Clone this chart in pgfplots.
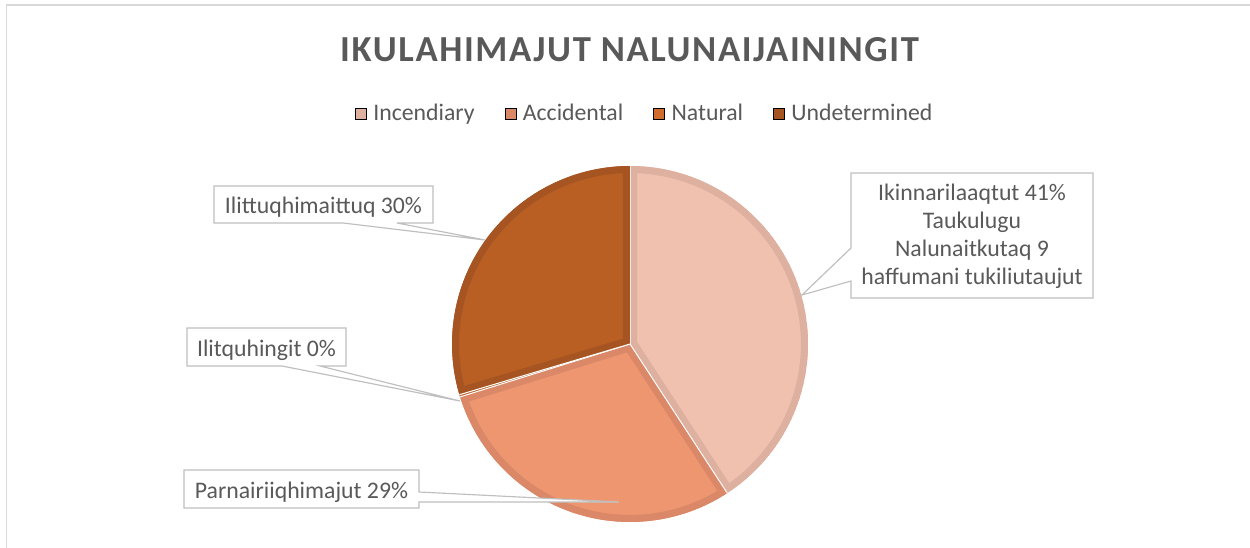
\documentclass[border=0pt]{standalone}
\usepackage{fontspec}
\setmainfont{Carlito}
\newfontfamily\titlefont[LetterSpace=4.4]{Carlito}
\usepackage{pgfplots}
\usepackage{pgfplotstable}
\pgfplotsset{compat=1.18}

\definecolor{txt}{HTML}{595959}
\definecolor{incF}{HTML}{F1C1AF}
\definecolor{incE}{HTML}{DDB0A0}
\definecolor{accF}{HTML}{EE9670}
\definecolor{accE}{HTML}{DA8868}
\definecolor{natF}{HTML}{D06C2C}
\definecolor{natE}{HTML}{BB6026}
\definecolor{undF}{HTML}{B95F24}
\definecolor{undE}{HTML}{A65522}
\definecolor{callout}{HTML}{BFBFBF}
\definecolor{framec}{HTML}{D9D9D9}

% share of each cause, in percent
\pgfplotstableread{
name pct
Incendiary 40.8
Accidental 29.4
Natural 0.2
Undetermined 29.6
}\piedata

\begin{document}
\begin{tikzpicture}
\begin{axis}[
  at={(0,0)}, anchor=south west,
  width=750pt, height=328.8pt, scale only axis,
  xmin=0, xmax=1250, ymin=0, ymax=548, y dir=reverse,
  hide axis, clip=false,
  legend columns=-1,
  legend image code/.code={\fill[#1] (0pt,-3.3pt) rectangle (6.6pt,3.3pt);},
  legend style={draw=none, fill=none, inner sep=0pt, outer sep=0pt,
    at={(axis cs:355,114)}, anchor=west,
    font=\fontsize{14.25}{16}\selectfont, text=txt,
    nodes={inner sep=0pt},
    /tikz/every odd column/.append style={column sep=4.0pt},
    /tikz/every even column/.append style={column sep=18pt}},
]
\addlegendimage{fill=incE}\addlegendentry{Incendiary}
\addlegendimage{fill=accE}\addlegendentry{Accidental}
\addlegendimage{fill=natF}\addlegendentry{Natural}
\addlegendimage{fill=undE}\addlegendentry{Undetermined}

% chart frame (top and left edges visible)
\draw[framec, line width=0.9pt] (axis cs:6.7,548) -- (axis cs:6.7,5) -- (axis cs:1250,5);

% pie slices from the table
\pgfplotsextra{
  \gdef\cum{0}
  \foreach \i/\fc/\ec in {0/incF/incE,1/accF/accE,2/natF/natE,3/undF/undE}{
    \pgfplotstablegetelem{\i}{pct}\of\piedata
    \pgfmathsetmacro\sa{90-3.6*\cum}
    \pgfmathsetmacro\ea{90-3.6*(\cum+\pgfplotsretval)}
    \pgfmathsetmacro\newcum{\cum+\pgfplotsretval}
    \xdef\cum{\newcum}
    \begin{scope}
      \clip (axis cs:630,344) -- ++(\sa:106.8pt) arc[start angle=\sa, end angle=\ea, radius=106.8pt] -- cycle;
      \filldraw[fill=\fc, draw=\ec, line width=8.5pt] (axis cs:630,344) -- ++(\sa:106.8pt) arc[start angle=\sa, end angle=\ea, radius=106.8pt] -- cycle;
    \end{scope}
    \draw[white, line width=0.6pt] (axis cs:630,344) -- ++(\sa:106.8pt);
  }
}

% callouts
\draw[callout, fill=white, line width=0.7pt] (axis cs:851,173) -- (axis cs:1093,173) -- (axis cs:1093,298) -- (axis cs:851,298) -- (axis cs:851,281) -- (axis cs:802,295) -- (axis cs:851,248) -- cycle;
\draw[callout, fill=white, line width=0.7pt] (axis cs:214,186) -- (axis cs:433,186) -- (axis cs:433,223) -- (axis cs:397,223) -- (axis cs:485,240) -- (axis cs:343,223) -- (axis cs:214,223) -- cycle;
\draw[callout, fill=white, line width=0.7pt] (axis cs:187,328) -- (axis cs:346,328) -- (axis cs:346,366) -- (axis cs:320,366) -- (axis cs:460,401) -- (axis cs:282,366) -- (axis cs:187,366) -- cycle;
\draw[callout, fill=white, line width=0.7pt] (axis cs:184,470) -- (axis cs:419,470) -- (axis cs:419,492) -- (axis cs:619,502) -- (axis cs:419,502) -- (axis cs:419,508) -- (axis cs:184,508) -- cycle;

\begin{scope}[every node/.style={text=txt, inner sep=0pt, anchor=base, font=\fontsize{14.25}{16}\selectfont}]
\node at (axis cs:972,200.7) {Ikinnarilaaqtut 41\%};
\node at (axis cs:972,228.5) {Taukulugu};
\node at (axis cs:972,256.7) {Nalunaitkutaq 9};
\node at (axis cs:972,285) {haffumani tukiliutaujut};
\node at (axis cs:323.5,213.3) {Ilittuqhimaittuq 30\%};
\node at (axis cs:266.5,356.7) {Ilitquhingit 0\%};
\node at (axis cs:301.5,498.3) {Parnairiiqhimajut 29\%};
\end{scope}

% title
\node[text=txt, inner sep=0pt, anchor=base, font=\titlefont\bfseries\fontsize{22}{26}\selectfont] at (axis cs:629.5,61.7) {IKULAHIMAJUT NALUNAIJAININGIT};
\end{axis}
\pgfresetboundingbox
\useasboundingbox (current axis.south west) rectangle (current axis.north east);
\end{tikzpicture}
\end{document}
